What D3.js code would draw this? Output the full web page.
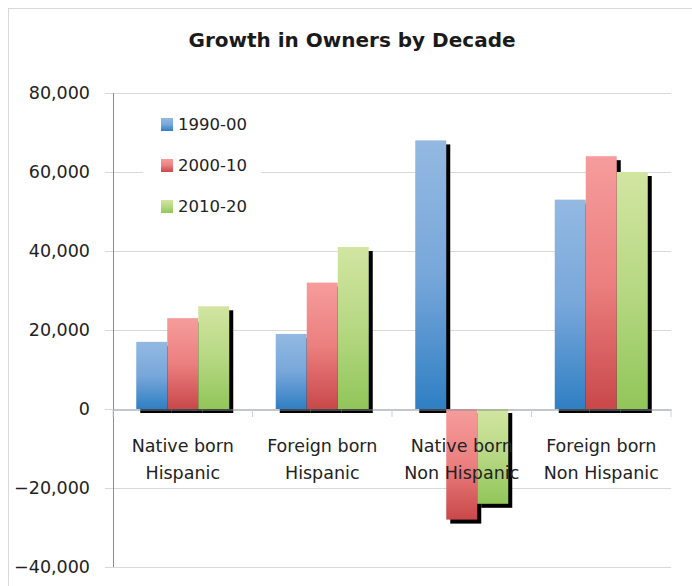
<!DOCTYPE html>
<html>
<head>
<meta charset="utf-8">
<script src="https://cdn.jsdelivr.net/npm/d3@7"></script>
<style>
  body { margin: 0; background: #fff; }
  #chart svg { display: block; }
</style>
</head>
<body>
<div id="chart"></div>
<script>
const categories = [
    ['Native born', 'Hispanic'],
    ['Foreign born', 'Hispanic'],
    ['Native born', 'Non Hispanic'],
    ['Foreign born', 'Non Hispanic']
]
const decades = ['1990-00', '2000-10', '2010-20']
const growth1990 = [17000, 19000, 68000, 53000]
const growth2000 = [23000, 32000, -28000, 64000]
const growth2010 = [26000, 41000, -24000, 60000]
const yTicks = [-40000, -20000, 0, 20000, 40000, 60000, 80000]

const width = 692, height = 586
const margin = ({ top: 93, right: 21, bottom: 19, left: 113 })

const series = [growth1990, growth2000, growth2010]
const data = categories.flatMap((c, i) => series.map((s, j) => ({ cat: i, key: decades[j], value: s[i] })))

const gradients = [
    ['#93b9e2', '#78a7da', '#2f7fc3'],
    ['#f69c9c', '#ec7f7f', '#c9484a'],
    ['#d2e5a1', '#b6d883', '#91c659']
]

const svg = d3.select('#chart')
    .append('svg')
    .attr('width', width)
    .attr('height', height)
    .style('font-family', '"DejaVu Sans", sans-serif')

const defs = svg.append('defs')
decades.forEach((d, i) => {
    const g = defs.append('linearGradient')
        .attr('id', `grad${i}`)
        .attr('x1', 0).attr('y1', 0).attr('x2', 0).attr('y2', 1)
    g.selectAll('stop')
        .data(gradients[i])
        .join('stop')
        .attr('offset', (c, k) => k / 2)
        .attr('stop-color', c => c)
})

// chart area border
svg.append('rect')
    .attr('x', 8.5).attr('y', 8.5)
    .attr('width', width + 20).attr('height', height + 20)
    .attr('fill', 'none')
    .attr('stroke', '#d9d9d9')

svg.append('text')
    .attr('x', 352)
    .attr('y', 47)
    .attr('text-anchor', 'middle')
    .style('font-weight', 'bold')
    .style('font-size', '20px')
    .attr('fill', '#1a1a1a')
    .text('Growth in Owners by Decade')

const x0 = d3.scaleBand()
    .domain(d3.range(categories.length))
    .range([margin.left, width - margin.right])
const x1 = d3.scaleBand()
    .domain(decades)
    .range([0, x0.bandwidth()])
    .paddingOuter(0.75)
    .paddingInner(0)
const y = d3.scaleLinear()
    .domain([-40000, 80000])
    .range([height - margin.bottom, margin.top])

// gridlines + y labels
const yAxis = g => g
    .attr('transform', `translate(${margin.left},0)`)
    .call(d3.axisLeft(y).tickValues(yTicks).tickSize(8).tickFormat(d3.format(',')))
    .call(g => g.select('.domain').remove())
    .call(g => g.selectAll('.tick line').attr('stroke', '#d9d9d9'))
    .call(g => g.selectAll('.tick text')
        .attr('x', -23)
        .attr('fill', '#222')
        .style('font-size', '17.5px')
        .style('font-family', '"DejaVu Sans", sans-serif'))

svg.append('g')
    .attr('class', 'grid')
    .selectAll('line')
    .data(yTicks.filter(d => d !== 0))
    .join('line')
    .attr('x1', margin.left)
    .attr('x2', width - margin.right)
    .attr('y1', d => Math.round(y(d)) + 0.5)
    .attr('y2', d => Math.round(y(d)) + 0.5)
    .attr('stroke', '#d9d9d9')

svg.append('g').call(yAxis)

// legend box
const legend = svg.append('g')
legend.append('rect')
    .attr('x', 143).attr('y', 103)
    .attr('width', 118).attr('height', 122)
    .attr('fill', '#fff')
const legendItems = legend.selectAll('g')
    .data(decades)
    .join('g')
    .attr('transform', (d, i) => `translate(161,${124 + i * 41})`)
legendItems.append('rect')
    .attr('x', 0).attr('y', -6)
    .attr('width', 12).attr('height', 13)
    .attr('fill', (d, i) => `url(#grad${i})`)
legendItems.append('text')
    .attr('x', 17)
    .attr('dy', '0.36em')
    .attr('fill', '#222')
    .style('font-size', '16.5px')
    .text(d => d)

const barX = d => x0(d.cat) + x1(d.key)
const barY = d => y(Math.max(0, d.value))
const barH = d => Math.abs(y(d.value) - y(0))

// shadows
svg.append('g')
    .attr('transform', 'translate(4,4)')
    .selectAll('rect')
    .data(data)
    .join('rect')
    .attr('x', barX)
    .attr('y', barY)
    .attr('width', x1.bandwidth())
    .attr('height', barH)
    .attr('fill', '#000')

svg.append('g')
    .selectAll('rect')
    .data(data)
    .join('rect')
    .attr('x', barX)
    .attr('y', barY)
    .attr('width', x1.bandwidth())
    .attr('height', barH)
    .attr('fill', d => `url(#grad${decades.indexOf(d.key)})`)

// y axis line
svg.append('line')
    .attr('x1', margin.left + 0.5).attr('x2', margin.left + 0.5)
    .attr('y1', y(80000)).attr('y2', y(-40000))
    .attr('stroke', '#878f94')

// zero baseline with category ticks
const xAxis = g => g
    .attr('transform', `translate(0,${Math.round(y(0)) + 0.5})`)
    .call(d3.axisBottom(x0).tickValues([]).tickSizeOuter(0))
    .call(g => g.select('.domain').attr('stroke', '#878f94'))

svg.append('g').call(xAxis)

svg.append('g')
    .selectAll('line')
    .data(d3.range(categories.length + 1))
    .join('line')
    .attr('x1', i => margin.left + i * x0.bandwidth())
    .attr('x2', i => margin.left + i * x0.bandwidth())
    .attr('y1', y(0))
    .attr('y2', y(0) + 8)
    .attr('stroke', '#d0d0d0')

// category labels
const catLabels = svg.append('g')
    .selectAll('text')
    .data(categories)
    .join('text')
    .attr('text-anchor', 'middle')
    .attr('fill', '#222')
    .style('font-size', '17.5px')
catLabels.selectAll('tspan')
    .data((d, i) => d.map(t => ({ t, i })))
    .join('tspan')
    .attr('x', d => x0(d.i) + x0.bandwidth() / 2)
    .attr('y', (d, k) => 452 + k * 27)
    .text(d => d.t)
</script>
</body>
</html>
